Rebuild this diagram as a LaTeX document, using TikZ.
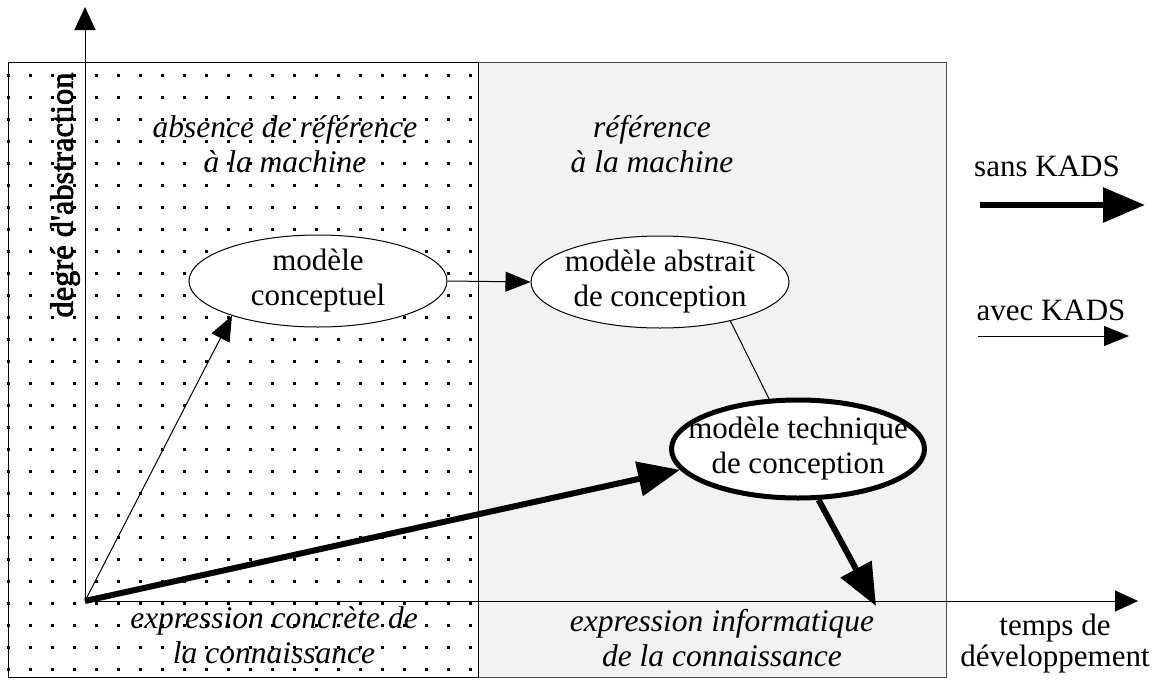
\documentclass[tikz,border=0pt]{standalone}
\usepackage{fontspec}
\setmainfont{Liberation Serif}
\newfontfamily\heavyfont{Liberation Serif}[FakeBold=2.5]
\usetikzlibrary{shapes.geometric,arrows.meta}
\newcommand{\zl}[1]{\makebox[0pt]{#1}}
\begin{document}
\begin{tikzpicture}[x=1pt,y=-1pt,
  every node/.style={font=\fontsize{31}{35}\selectfont},
  lbl/.style={align=center, inner sep=0pt},
  itlbl/.style={align=center, inner sep=0pt, font=\fontsize{31.5}{35}\selectfont\itshape},
  ell/.style={ellipse, draw, fill=white, align=center, inner sep=0pt, line width=1pt},
  thinarr/.style={line width=1pt, -{Triangle[length=25pt,width=20pt]}},
  axisarr/.style={line width=1pt, -{Triangle[length=23pt,width=21pt]}},
  thickarr/.style={line width=6pt, -{Triangle[length=42pt,width=34pt]}},
]
\useasboundingbox (0,0) rectangle (1154,680);
\fill[white] (0,0) rectangle (1154,680);
% boxes
\draw[fill=gray!10, draw=black!70, line width=1pt] (478,62) rectangle (946,677);
\draw[line width=1pt] (8,62) rectangle (478,677);
\foreach \i in {0,...,21}{
  \foreach \j in {0,...,27}{
    \fill ({8+22*\i-1.5},{75+22*\j-1.5}) rectangle ++(3,3);
  }
}
% axes
\coordinate (O) at (85,601);
\coordinate (ytip) at (85,7);
\coordinate (xtip) at (1138,601);
\draw[axisarr] (O) -- (ytip);
\draw[axisarr] (O) -- (xtip);
% labels
\node[rotate=90, inner sep=0pt, font=\fontsize{32.5}{35}\heavyfont] (deg) at (65,195) {degré d'abstraction};
\node[itlbl] (absref) at (285,144) {absence de référence\\à la machine};
\node[itlbl] (ref) at (652,144) {référence\\à la machine};
\node[itlbl] (concr) at (274,635) {expression concrète de\\la connaissance};
\node[itlbl] (info) at (722,638) {expression informatique\\de la connaissance};
\node[lbl, font=\fontsize{31}{31}\selectfont] (temps) at (1055,644) {temps de\\développement};
% ellipses
\node[ell, minimum width=258pt, minimum height=92pt] (e1) at (318,281) {\zl{modèle}\\\zl{conceptuel}};
\node[ell, minimum width=258pt, minimum height=92pt] (e2) at (660,282) {\zl{modèle abstrait}\\\zl{de conception}};
\node[ell, line width=5pt, minimum width=253pt, minimum height=98pt] (e3) at (798,449) {\zl{modèle technique}\\\zl{de conception}};
% connectors
\draw[thinarr] (e1.east) -- (e2.west);
\draw[line width=1pt] (e2.331) -- (e3.120);
\draw[thinarr] (O) -- (e1.202);
\draw[thickarr] (O) -- (e3.190);
\coordinate (xhit) at (876,606);
\draw[thickarr] (e3.292) -- (xhit);
% legend
\node[anchor=base] (sans) at (1047,176) {sans KADS};
\coordinate (s1) at (980,205);
\coordinate (s2) at (1145,205);
\draw[thickarr] (s1) -- (s2);
\node[anchor=base] (avec) at (1051,320) {avec KADS};
\coordinate (a1) at (978,336);
\coordinate (a2) at (1129,336);
\draw[thinarr] (a1) -- (a2);
\end{tikzpicture}
\end{document}
